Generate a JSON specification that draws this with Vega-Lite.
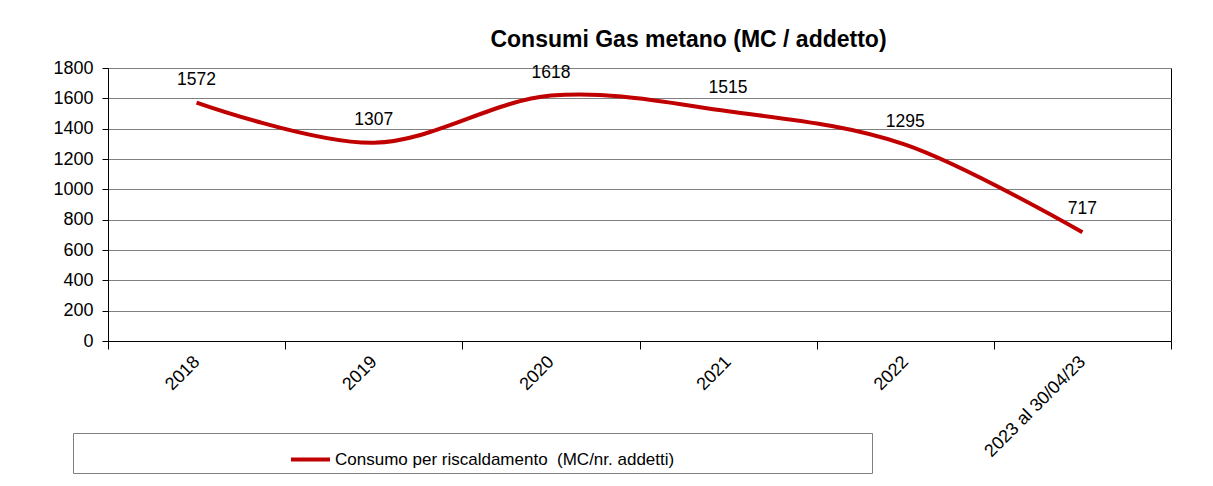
{
  "$schema": "https://vega.github.io/schema/vega-lite/v6.json",
  "width": 1063,
  "height": 273,
  "autosize": {"type": "none"},
  "padding": {"left": 108, "top": 68, "right": 42, "bottom": 145},
  "background": "white",
  "title": {
    "text": "Consumi Gas metano (MC / addetto)",
    "font": "Liberation Sans",
    "fontSize": 23,
    "fontWeight": "bold",
    "color": "black",
    "anchor": "middle",
    "dx": 49,
    "offset": 7
  },
  "data": {
    "values": [
      {"anno": "2018", "valore": 1572, "serie": "Consumo per riscaldamento \u00a0(MC/nr. addetti)"},
      {"anno": "2019", "valore": 1307, "serie": "Consumo per riscaldamento \u00a0(MC/nr. addetti)"},
      {"anno": "2020", "valore": 1618, "serie": "Consumo per riscaldamento \u00a0(MC/nr. addetti)"},
      {"anno": "2021", "valore": 1515, "serie": "Consumo per riscaldamento \u00a0(MC/nr. addetti)"},
      {"anno": "2022", "valore": 1295, "serie": "Consumo per riscaldamento \u00a0(MC/nr. addetti)"},
      {"anno": "2023 al 30/04/23", "valore": 717, "serie": "Consumo per riscaldamento \u00a0(MC/nr. addetti)"}
    ]
  },
  "encoding": {
    "x": {
      "field": "anno",
      "type": "nominal",
      "sort": null,
      "bandPosition": 0.5,
      "scale": {"type": "band", "paddingInner": 0, "paddingOuter": 0},
      "axis": {
        "title": null,
        "labelAngle": -45,
        "labelAlign": "right",
        "labelBaseline": "middle",
        "labelFont": "Liberation Sans",
        "labelFontSize": 18,
        "labelColor": "black",
        "labelPadding": 10,
        "tickBand": "extent",
        "tickSize": 8,
        "tickColor": "black",
        "domainColor": "black",
        "grid": false
      }
    },
    "y": {
      "field": "valore",
      "type": "quantitative",
      "scale": {"domain": [0, 1800], "nice": false},
      "axis": {
        "title": null,
        "format": "d",
        "values": [0, 200, 400, 600, 800, 1000, 1200, 1400, 1600, 1800],
        "labelFont": "Liberation Sans",
        "labelFontSize": 18,
        "labelColor": "black",
        "labelPadding": 9,
        "tickSize": 6,
        "tickColor": "black",
        "domainColor": "black",
        "grid": true,
        "gridColor": "#808080",
        "gridWidth": 1
      }
    }
  },
  "layer": [
    {
      "mark": {"type": "line", "interpolate": "cardinal", "strokeWidth": 4},
      "encoding": {
        "color": {
          "field": "serie",
          "type": "nominal",
          "scale": {"range": ["#C00000"]},
          "legend": {
            "title": null,
            "orient": "none",
            "legendX": -35,
            "legendY": 365,
            "symbolType": "stroke",
            "symbolSize": 1521,
            "symbolStrokeWidth": 4,
            "symbolOffset": 211,
            "padding": 5,
            "labelFont": "Liberation Sans",
            "labelFontSize": 17,
            "labelColor": "black",
            "labelOffset": 3,
            "labelLimit": 1000,
            "labelExpr": "datum.label + '\u2800\u2800\u2800\u2800\u2800\u2800\u2800\u2800\u2800\u2800\u2800\u2800\u2800\u2800\u2800\u2800'",
            "strokeColor": "#808080",
            "fillColor": "white"
          }
        }
      }
    },
    {
      "mark": {"type": "text", "dy": -23, "font": "Liberation Sans", "fontSize": 17.5, "color": "black"},
      "encoding": {"text": {"field": "valore", "type": "quantitative"}}
    }
  ],
  "config": {
    "view": {"stroke": "black", "strokeWidth": 1}
  }
}
